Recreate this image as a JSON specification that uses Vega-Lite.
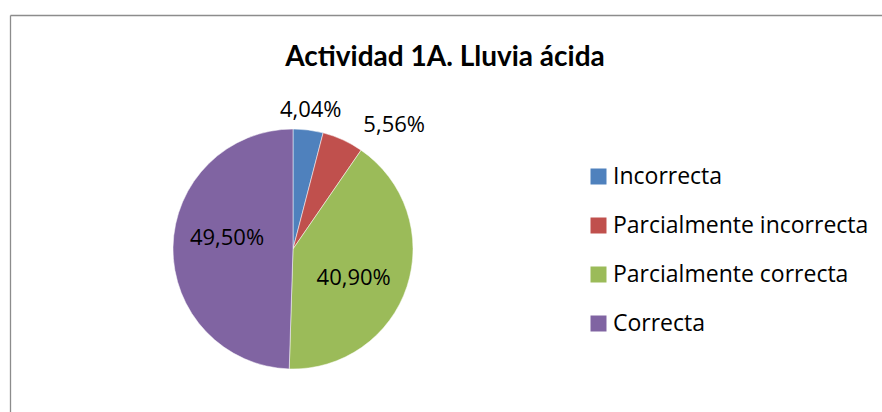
{
  "$schema": "https://vega.github.io/schema/vega-lite/v6.json",
  "width": 240,
  "height": 240,
  "autosize": {"type": "none"},
  "padding": {"left": 173, "top": 129, "right": 469, "bottom": 43},
  "background": "#ffffff",
  "title": {
    "text": "Actividad 1A. Lluvia ácida",
    "font": "Lato",
    "fontSize": 28,
    "fontWeight": "bold",
    "color": "#000000",
    "anchor": "middle",
    "dx": 152,
    "offset": -60
  },
  "data": {
    "values": [
      {"categoria": "Incorrecta", "valor": 0.0404, "orden": 1},
      {"categoria": "Parcialmente incorrecta", "valor": 0.0556, "orden": 2},
      {"categoria": "Parcialmente correcta", "valor": 0.409, "orden": 3},
      {"categoria": "Correcta", "valor": 0.495, "orden": 4}
    ]
  },
  "layer": [
    {
      "mark": {"type": "point", "opacity": 0},
      "encoding": {
        "x": {
          "datum": 0,
          "type": "quantitative",
          "scale": {"domain": [0, 1], "range": [-163, 709], "zero": false, "nice": false},
          "axis": {"orient": "top", "offset": 114, "labels": false, "ticks": false, "grid": false, "title": null, "domainColor": "#8c8c8c", "domainWidth": 1.3}
        },
        "y": {
          "datum": 0,
          "type": "quantitative",
          "scale": {"domain": [0, 1], "range": [-114, 283], "zero": false, "nice": false},
          "axis": {"orient": "left", "offset": 163, "labels": false, "ticks": false, "grid": false, "title": null, "domainColor": "#8c8c8c", "domainWidth": 1.3}
        }
      }
    },
    {
      "mark": {"type": "arc", "stroke": "#ffffff", "strokeWidth": 0.5},
      "encoding": {
        "theta": {"field": "valor", "type": "quantitative", "stack": true},
        "order": {"field": "orden", "type": "quantitative"},
        "color": {
          "field": "categoria",
          "type": "nominal",
          "sort": ["Incorrecta", "Parcialmente incorrecta", "Parcialmente correcta", "Correcta"],
          "scale": {
            "domain": ["Incorrecta", "Parcialmente incorrecta", "Parcialmente correcta", "Correcta"],
            "range": ["#4F81BD", "#C0504D", "#9BBB59", "#8064A2"]
          },
          "legend": {
            "title": null,
            "orient": "none",
            "legendX": 414,
            "legendY": 36,
            "padding": 0,
            "symbolType": "square",
            "symbolSize": 256,
            "symbolStrokeWidth": 0,
            "labelFont": "Open Sans",
            "labelFontSize": 23,
            "labelColor": "#000000",
            "labelOffset": 3,
            "rowPadding": 25,
            "labelLimit": 400
          }
        }
      }
    },
    {
      "mark": {"type": "text", "font": "Open Sans", "fontSize": 22, "color": "#000000", "radius": 66, "dy": -10},
      "encoding": {
        "theta": {"field": "valor", "type": "quantitative", "stack": true},
        "order": {"field": "orden", "type": "quantitative"},
        "text": {"condition": {"test": "datum.orden == 4", "field": "valor", "type": "quantitative", "format": ".2%"}, "value": ""}
      }
    },
    {
      "mark": {"type": "text", "font": "Open Sans", "fontSize": 22, "color": "#000000", "radius": 66, "dx": -2, "dy": 8},
      "encoding": {
        "theta": {"field": "valor", "type": "quantitative", "stack": true},
        "order": {"field": "orden", "type": "quantitative"},
        "text": {"condition": {"test": "datum.orden == 3", "field": "valor", "type": "quantitative", "format": ".2%"}, "value": ""}
      }
    },
    {
      "mark": {"type": "text", "font": "Open Sans", "fontSize": 22, "color": "#000000", "radius": 140},
      "encoding": {
        "theta": {"field": "valor", "type": "quantitative", "stack": true},
        "order": {"field": "orden", "type": "quantitative"},
        "text": {"condition": {"test": "datum.orden == 1", "field": "valor", "type": "quantitative", "format": ".2%"}, "value": ""}
      }
    },
    {
      "mark": {"type": "text", "font": "Open Sans", "fontSize": 22, "color": "#000000", "radius": 140, "dx": 43, "dy": 3},
      "encoding": {
        "theta": {"field": "valor", "type": "quantitative", "stack": true},
        "order": {"field": "orden", "type": "quantitative"},
        "text": {"condition": {"test": "datum.orden == 2", "field": "valor", "type": "quantitative", "format": ".2%"}, "value": ""}
      }
    }
  ],
  "config": {
    "view": {"stroke": null},
    "locale": {
      "number": {"decimal": ",", "thousands": ".", "grouping": [3], "currency": ["", " €"]}
    }
  }
}
